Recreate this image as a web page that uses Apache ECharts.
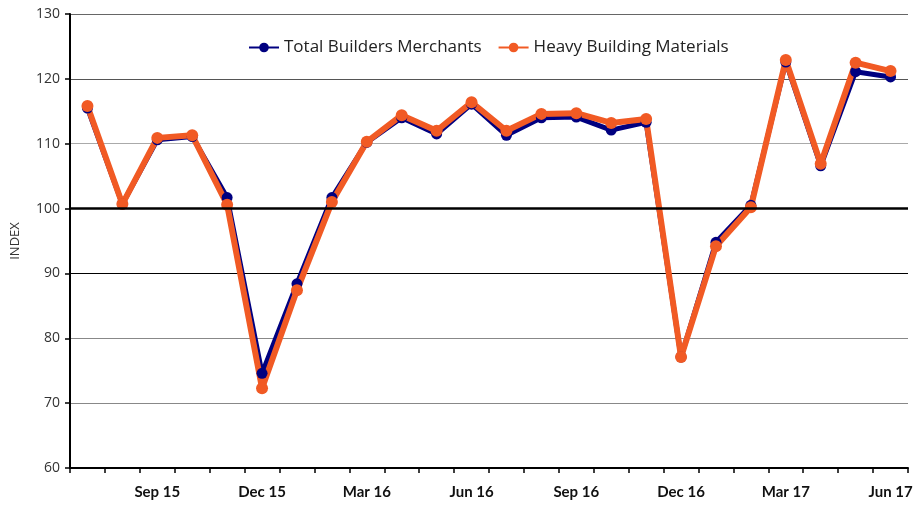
<!DOCTYPE html>
<html style="height: 100%">
<head>
    <meta charset="utf-8">
</head>
<body style="height: 100%; margin: 0; background: #fff">
    <div id="container" style="width: 916px; height: 506px"></div>
    <script src="https://cdn.jsdelivr.net/npm/echarts@6/dist/echarts.min.js"></script>
    <script type="text/javascript">
        // months Jul 15 .. Jun 17
        var months = ['Jul 15', 'Aug 15', 'Sep 15', 'Oct 15', 'Nov 15', 'Dec 15',
            'Jan 16', 'Feb 16', 'Mar 16', 'Apr 16', 'May 16', 'Jun 16',
            'Jul 16', 'Aug 16', 'Sep 16', 'Oct 16', 'Nov 16', 'Dec 16',
            'Jan 17', 'Feb 17', 'Mar 17', 'Apr 17', 'May 17', 'Jun 17'];
        var totalMerchants = [115.5, 100.7, 110.6, 111.1, 101.7, 74.6, 88.4, 101.7, 110.2, 114.0, 111.5, 116.1,
            111.3, 114.0, 114.1, 112.1, 113.3, 77.1, 94.8, 100.5, 122.6, 106.6, 121.1, 120.3];
        var heavyMaterials = [115.8, 100.7, 110.9, 111.3, 100.6, 72.3, 87.4, 101.0, 110.3, 114.4, 112.0, 116.4,
            112.0, 114.6, 114.7, 113.2, 113.8, 77.1, 94.2, 100.2, 122.9, 106.9, 122.5, 121.2];

        var myChart = echarts.init(document.getElementById('container'));
        var option = {
            animation: false,
            textStyle: { fontFamily: 'Open Sans' },
            grid: { left: 70, right: 8, top: 14, bottom: 38 },
            legend: {
                top: 34,
                left: 243,
                itemWidth: 30,
                itemHeight: 12,
                itemGap: 16,
                textStyle: { fontSize: 17, color: '#222', fontFamily: 'Open Sans' },
                data: ['Total Builders Merchants', 'Heavy Building Materials']
            },
            xAxis: {
                type: 'category',
                data: months,
                boundaryGap: true,
                axisLine: { lineStyle: { color: '#000', width: 2 } },
                axisTick: { show: true, interval: 0, length: 5, lineStyle: { color: '#000', width: 1.5 } },
                axisLabel: {
                    interval: function (index) { return index % 3 === 2; },
                    color: '#111',
                    fontSize: 15,
                    fontWeight: 'bold',
                    fontFamily: 'Lato',
                    margin: 17
                },
                splitLine: { show: false }
            },
            yAxis: {
                type: 'value',
                min: 60,
                max: 130,
                interval: 10,
                name: 'INDEX',
                nameLocation: 'middle',
                nameGap: 48,
                nameRotate: 90,
                nameTextStyle: { fontSize: 13, color: '#333' },
                axisLine: { show: true, lineStyle: { color: '#000', width: 2 } },
                axisTick: { show: true, length: 5, lineStyle: { color: '#000', width: 1.5 } },
                axisLabel: { fontSize: 14, color: '#333', margin: 10 },
                splitLine: {
                    show: true,
                    lineStyle: {
                        color: ['#000', '#888', '#888', '#000', '#555', '#aaa', '#555', '#666'],
                        width: 1
                    }
                }
            },
            series: [
                {
                    name: 'Total Builders Merchants',
                    type: 'line',
                    data: totalMerchants,
                    symbol: 'circle',
                    symbolSize: 11,
                    itemStyle: { color: '#000080' },
                    lineStyle: { color: '#000080', width: 5 },
                    markLine: {
                        silent: true,
                        symbol: 'none',
                        label: { show: false },
                        lineStyle: { color: '#000', width: 2.5, type: 'solid' },
                        data: [{ yAxis: 100 }]
                    }
                },
                {
                    name: 'Heavy Building Materials',
                    type: 'line',
                    data: heavyMaterials,
                    symbol: 'circle',
                    symbolSize: 12,
                    itemStyle: { color: '#F15A24' },
                    lineStyle: { color: '#F15A24', width: 6 }
                }
            ]
        };
        myChart.setOption(option);
    </script>
</body>
</html>
